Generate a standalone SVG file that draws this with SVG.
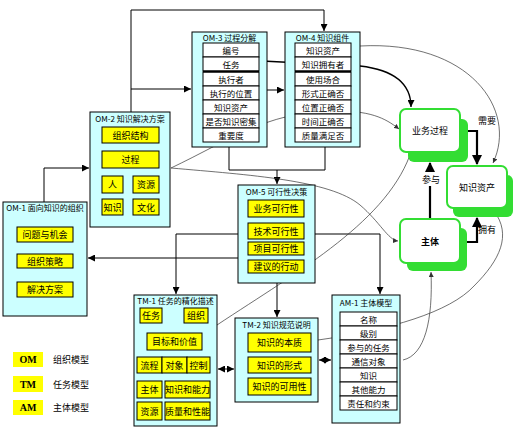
<svg xmlns="http://www.w3.org/2000/svg" width="517" height="429" viewBox="0 0 517 429">
<style>
.cy{fill:#ccffff;stroke:#000;stroke-width:1}
.yl{fill:#ffff00;stroke:#000;stroke-width:1}
.cell{fill:#fff;stroke:#000;stroke-width:1}
.t{font-family:"Noto Sans CJK SC","Noto Sans",sans-serif;font-size:9px;text-anchor:middle;dominant-baseline:central;fill:#000}
.c{font-size:8.5px}
.h{font-size:8px}
.ln{fill:none;stroke:#000;stroke-width:1}
.cv{fill:none;stroke:#333;stroke-width:0.7}
.tk{fill:none;stroke:#000;stroke-width:2.2}
.gs{fill:#33dd33}
.gn{fill:#fff;stroke:#33dd33;stroke-width:2}
.lg{font-family:"Liberation Serif",serif;font-size:10px;font-weight:bold;text-anchor:middle;dominant-baseline:central}
</style>
<defs>
<marker id="a" viewBox="0 0 10 10" refX="10" refY="5" markerWidth="7" markerHeight="7" orient="auto-start-reverse" markerUnits="userSpaceOnUse"><path d="M0,0 L10,5 L0,10 z" fill="#000"/></marker>
<marker id="ab" viewBox="0 0 10 10" refX="9" refY="5" markerWidth="10" markerHeight="10" orient="auto" markerUnits="userSpaceOnUse"><path d="M0,0 L10,5 L0,10 z" fill="#000"/></marker>
<marker id="as" viewBox="0 0 10 10" refX="10" refY="5" markerWidth="5" markerHeight="5" orient="auto" markerUnits="userSpaceOnUse"><path d="M0,0 L10,5 L0,10 z" fill="#333"/></marker>
</defs>
<rect width="517" height="429" fill="#fff"/>

<g id="connectors">
<path class="ln" d="M131,112 V10 H324 V31" marker-end="url(#a)"/>
<path class="ln" d="M131,89 H191" marker-end="url(#a)"/>
<path class="ln" d="M267,90 H284" marker-end="url(#a)"/>
<path class="ln" d="M44,202 V168 H89" marker-end="url(#a)"/>
<path class="ln" d="M229,147 V170 H325 V147"/>
<path class="ln" d="M277,170 V184" marker-end="url(#a)"/>
<path class="ln" d="M238,234 H176 V294" marker-end="url(#a)"/>
<path class="ln" d="M238,258 H88" marker-end="url(#a)"/>
<path class="ln" d="M315,234 H380 V294" marker-end="url(#a)"/>
<path class="ln" d="M277,283 V317" marker-end="url(#a)"/>
<path class="ln" d="M218,369 H234" marker-start="url(#a)" marker-end="url(#a)"/>
<path class="ln" d="M319,360 H331" marker-start="url(#a)" marker-end="url(#a)"/>
<path class="tk" d="M461,131 H477 V164" marker-end="url(#ab)"/>
<path class="tk" d="M430,219 V163" marker-end="url(#ab)"/>
<path class="tk" d="M461,242 H477 V218" marker-end="url(#ab)"/>
<path class="cv" d="M360,46 C470,40 518,110 493,163" marker-end="url(#as)"/>
<path class="ln" style="stroke-width:1.3" d="M262,61 L360,66 C395,70 411,85 411,107" marker-end="url(#a)"/>
<path class="cv" d="M171,168 C230,140 265,113 330,111 C370,110 385,118 399,129" marker-end="url(#as)"/>
<path class="cv" d="M171,168 C250,175 330,180 360,205 C380,222 388,240 398,241" marker-end="url(#as)"/>
<path class="cv" d="M217,325 C300,270 390,220 412,149" marker-end="url(#as)"/>
<path class="cv" d="M403,360 C425,355 433,320 431,272" marker-end="url(#as)"/>
<path class="cv" d="M318,340 C390,330 450,312 474,286 C500,260 512,235 494,211" marker-end="url(#as)"/>
</g>

<g id="OM-3">
<rect class="cy" x="192" y="32" width="75" height="115"/>
<text class="t h" x="229.5" y="37.5">OM-3 过程分解</text>
<rect class="cell" x="203" y="43" width="56" height="14"/><text class="t c" x="231" y="50">编号</text>
<rect class="cell" x="203" y="57" width="56" height="14"/><text class="t c" x="231" y="64">任务</text>
<rect class="cell" x="203" y="72" width="56" height="14"/><text class="t c" x="231" y="79">执行者</text>
<rect class="cell" x="203" y="86" width="56" height="14"/><text class="t c" x="231" y="93">执行的位置</text>
<rect class="cell" x="203" y="100" width="56" height="14"/><text class="t c" x="231" y="107">知识资产</text>
<rect class="cell" x="203" y="114" width="56" height="14"/><text class="t c" x="231" y="121">是否知识密集</text>
<rect class="cell" x="203" y="128" width="56" height="14"/><text class="t c" x="231" y="135">重要度</text>
<line x1="203" y1="71.5" x2="259" y2="71.5" stroke="#000" stroke-width="2"/>
</g>

<g id="OM-4">
<rect class="cy" x="285" y="32" width="75" height="115"/>
<text class="t h" x="322.5" y="37.5">OM-4 知识组件</text>
<rect class="cell" x="295" y="43" width="56" height="14"/><text class="t c" x="323" y="50">知识资产</text>
<rect class="cell" x="295" y="57" width="56" height="14"/><text class="t c" x="323" y="64">知识拥有者</text>
<rect class="cell" x="295" y="72" width="56" height="14"/><text class="t c" x="323" y="79">使用场合</text>
<rect class="cell" x="295" y="86" width="56" height="14"/><text class="t c" x="323" y="93">形式正确否</text>
<rect class="cell" x="295" y="100" width="56" height="14"/><text class="t c" x="323" y="107">位置正确否</text>
<rect class="cell" x="295" y="114" width="56" height="14"/><text class="t c" x="323" y="121">时间正确否</text>
<rect class="cell" x="295" y="128" width="56" height="14"/><text class="t c" x="323" y="135">质量满足否</text>
<line x1="295" y1="71.5" x2="351" y2="71.5" stroke="#000" stroke-width="2"/>
</g>

<g id="OM-2">
<rect class="cy" x="90" y="112" width="80" height="115"/>
<text class="t h" x="130" y="118">OM-2 知识解决方案</text>
<rect class="yl" x="102" y="127" width="57" height="16"/><text class="t" x="130.5" y="135">组织结构</text>
<rect class="yl" x="102" y="151" width="57" height="17"/><text class="t" x="130.5" y="159.5">过程</text>
<rect class="yl" x="102" y="176" width="21" height="17"/><text class="t" x="112.5" y="184.5">人</text>
<rect class="yl" x="133" y="176" width="26" height="17"/><text class="t" x="146" y="184.5">资源</text>
<rect class="yl" x="102" y="199" width="21" height="16"/><text class="t" x="112.5" y="207">知识</text>
<rect class="yl" x="133" y="199" width="26" height="16"/><text class="t" x="146" y="207">文化</text>
</g>

<g id="OM-1">
<rect class="cy" x="3" y="202" width="84" height="114"/>
<text class="t h" x="45" y="207.5">OM-1 面向知识的组织</text>
<rect class="yl" x="17" y="227" width="56" height="15"/><text class="t" x="45" y="234.5">问题与机会</text>
<rect class="yl" x="17" y="254" width="56" height="14"/><text class="t" x="45" y="261">组织策略</text>
<rect class="yl" x="17" y="282" width="56" height="15"/><text class="t" x="45" y="289.5">解决方案</text>
</g>

<g id="OM-5">
<rect class="cy" x="238" y="185" width="77" height="98"/>
<text class="t h" x="276.5" y="191">OM-5 可行性决策</text>
<rect class="yl" x="248" y="200" width="56" height="17"/><text class="t" x="276" y="208.5">业务可行性</text>
<rect class="yl" x="248" y="223" width="56" height="16"/><text class="t" x="276" y="231">技术可行性</text>
<rect class="yl" x="248" y="242" width="56" height="13"/><text class="t" x="276" y="248.5">项目可行性</text>
<rect class="yl" x="248" y="260" width="56" height="13"/><text class="t" x="276" y="266.5">建议的行动</text>
</g>

<g id="TM-1">
<rect class="cy" x="134" y="295" width="83" height="131"/>
<text class="t h" x="175.5" y="300.5">TM-1 任务的精化描述</text>
<rect class="yl" x="140" y="308" width="22" height="15"/><text class="t" x="151" y="315.5">任务</text>
<rect class="yl" x="184" y="308" width="24" height="15"/><text class="t" x="196" y="315.5">组织</text>
<rect class="yl" x="147" y="333" width="55" height="17"/><text class="t" x="174.5" y="341.5">目标和价值</text>
<rect class="yl" x="137" y="357" width="25" height="16"/><text class="t" x="149.5" y="365">流程</text>
<rect class="yl" x="162" y="357" width="25" height="16"/><text class="t" x="174.5" y="365">对象</text>
<rect class="yl" x="187" y="357" width="23" height="16"/><text class="t" x="198.5" y="365">控制</text>
<rect class="yl" x="137" y="381" width="25" height="17"/><text class="t" x="149.5" y="389.5">主体</text>
<rect class="yl" x="165" y="381" width="45" height="17"/><text class="t" x="187.5" y="389.5">知识和能力</text>
<rect class="yl" x="137" y="402" width="25" height="18"/><text class="t" x="149.5" y="411">资源</text>
<rect class="yl" x="165" y="402" width="45" height="18"/><text class="t" x="187.5" y="411">质量和性能</text>
</g>

<g id="TM-2">
<rect class="cy" x="235" y="318" width="83" height="84"/>
<text class="t h" x="276.5" y="324">TM-2 知识规范说明</text>
<rect class="yl" x="248" y="333" width="63" height="19"/><text class="t" x="279.5" y="342.5">知识的本质</text>
<rect class="yl" x="248" y="357" width="63" height="16"/><text class="t" x="279.5" y="365">知识的形式</text>
<rect class="yl" x="248" y="378" width="63" height="17"/><text class="t" x="279.5" y="386.5">知识的可用性</text>
</g>

<g id="AM-1">
<rect class="cy" x="332" y="295" width="68" height="128"/>
<text class="t h" x="366" y="302.5">AM-1 主体模型</text>
<rect class="cell" x="340" y="312" width="57" height="14"/><text class="t c" x="368.5" y="319">名称</text>
<rect class="cell" x="340" y="326" width="57" height="14"/><text class="t c" x="368.5" y="333">级别</text>
<rect class="cell" x="340" y="340" width="57" height="14"/><text class="t c" x="368.5" y="347">参与的任务</text>
<rect class="cell" x="340" y="354" width="57" height="14"/><text class="t c" x="368.5" y="361">通信对象</text>
<rect class="cell" x="340" y="368" width="57" height="14"/><text class="t c" x="368.5" y="375">知识</text>
<rect class="cell" x="340" y="382" width="57" height="14"/><text class="t c" x="368.5" y="389">其他能力</text>
<rect class="cell" x="340" y="396" width="57" height="14"/><text class="t c" x="368.5" y="403">责任和约束</text>
</g>

<g id="business-process">
<rect class="gs" x="408" y="119" width="60" height="43" rx="6"/>
<rect class="gn" x="400" y="109" width="60" height="43" rx="6"/>
<text class="t" x="430" y="130.5">业务过程</text>
</g>

<g id="knowledge-asset">
<rect class="gs" x="453" y="175" width="60" height="42" rx="6"/>
<rect class="gn" x="447" y="166" width="60" height="42" rx="6"/>
<text class="t" x="477" y="187">知识资产</text>
</g>

<g id="agent">
<rect class="gs" x="407" y="228" width="60" height="43" rx="6"/>
<rect class="gn" x="400" y="219" width="60" height="44" rx="6"/>
<text class="t" x="430" y="241" font-weight="bold">主体</text>
</g>

<g id="edge-labels">
<text class="t" x="487" y="120">需要</text>
<rect x="421" y="172" width="20" height="14" fill="#fff"/>
<text class="t" x="431" y="179">参与</text>
<text class="t" x="487" y="229">拥有</text>
</g>

<g id="legend">
<rect x="13" y="352" width="30" height="15" fill="#ffff00"/><text class="lg" x="28" y="359.5">OM</text>
<text class="t" x="53" y="359.5" style="text-anchor:start">组织模型</text>
<rect x="13" y="376" width="30" height="16" fill="#ffff00"/><text class="lg" x="28" y="384">TM</text>
<text class="t" x="53" y="384" style="text-anchor:start">任务模型</text>
<rect x="13" y="400" width="30" height="15" fill="#ffff00"/><text class="lg" x="28" y="407.5">AM</text>
<text class="t" x="53" y="407.5" style="text-anchor:start">主体模型</text>
</g>
</svg>
